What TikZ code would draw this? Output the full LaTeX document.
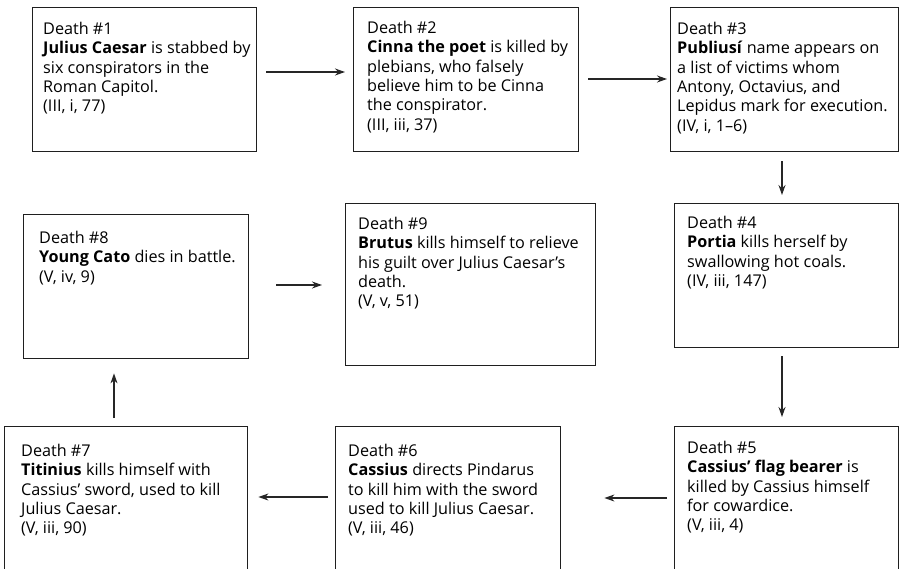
\documentclass[tikz,border=0pt]{standalone}
\usepackage{fontspec}
\setmainfont{Open Sans}
\usetikzlibrary{arrows.meta,calc}
\tikzset{
  box/.style={draw=black!88, line width=1.4pt, inner sep=0pt, anchor=north west},
  txt/.style={inner sep=0pt, anchor=north west, align=left, text=black,
     font=\fontsize{16.2pt}{19.3pt}\selectfont},
  link/.style={draw=black!85, line width=1.2pt, -{Stealth[length=10pt,width=7pt]}}
}
\begin{document}
\begin{tikzpicture}[x=1pt,y=-1pt]
\useasboundingbox (0,0) rectangle (900,569);
\clip (0,0) rectangle (900,569);
% boxes
\node[box, minimum width=224pt, minimum height=144pt] (b1) at (32,7) {};
\node[box, minimum width=225pt, minimum height=144pt] (b2) at (353,7) {};
\node[box, minimum width=228pt, minimum height=144pt] (b3) at (670,7) {};
\node[box, minimum width=224pt, minimum height=144pt] (b4) at (674,203) {};
\node[box, minimum width=224pt, minimum height=160pt] (b5) at (674,426) {};
\node[box, minimum width=225pt, minimum height=160pt] (b6) at (335,426) {};
\node[box, minimum width=243pt, minimum height=160pt] (b7) at (4,426) {};
\node[box, minimum width=225pt, minimum height=144pt] (b8) at (23,214) {};
\node[box, minimum width=250pt, minimum height=162pt] (b9) at (345,203) {};
% texts
\node[txt] (t1) at ($(b1.north west)+(11,15)$) {Death \#1\\\textbf{Julius Caesar} is stabbed by\\six conspirators in the\\Roman Capitol.\\(III, i, 77)};
\node[txt] (t2) at ($(b2.north west)+(14,14)$) {Death \#2\\\textbf{Cinna the poet} is killed by\\plebians, who falsely\\believe him to be Cinna\\the conspirator.\\(III, iii, 37)};
\node[txt] (t3) at ($(b3.north west)+(7,15)$) {Death \#3\\\textbf{Publiusí} name appears on\\a list of victims whom\\Antony, Octavius, and\\Lepidus mark for execution.\\(IV, i, 1–6)};
\node[txt] (t4) at ($(b4.north west)+(13,13)$) {Death \#4\\\textbf{Portia} kills herself by\\swallowing hot coals.\\(IV, iii, 147)};
\node[txt] (t5) at ($(b5.north west)+(13,15)$) {Death \#5\\\textbf{Cassius’ flag bearer} is\\killed by Cassius himself\\for cowardice.\\(V, iii, 4)};
\node[txt] (t6) at ($(b6.north west)+(13,18)$) {Death \#6\\\textbf{Cassius} directs Pindarus\\to kill him with the sword\\used to kill Julius Caesar.\\(V, iii, 46)};
\node[txt] (t7) at ($(b7.north west)+(17,18)$) {Death \#7\\\textbf{Titinius} kills himself with\\Cassius’ sword, used to kill\\Julius Caesar.\\(V, iii, 90)};
\node[txt] (t8) at ($(b8.north west)+(16,17)$) {Death \#8\\\textbf{Young Cato} dies in battle.\\(V, iv, 9)};
\node[txt] (t9) at ($(b9.north west)+(13,14)$) {Death \#9\\\textbf{Brutus} kills himself to relieve\\his guilt over Julius Caesar’s\\death.\\(V, v, 51)};
% connectors
\draw[link] ($(b1.north east)+(9,65)$) -- ($(b2.north west)+(-8,65)$);
\draw[link] ($(b2.north east)+(9,72)$) -- ($(b3.north west)+(-3,72)$);
\draw[link] ($(b3.south west)+(112,9)$) -- ($(b4.north west)+(108,-8)$);
\draw[link] ($(b4.south west)+(108,8)$) -- ($(b5.north west)+(108,-9)$);
\draw[link] ($(b5.north west)+(-7,72)$) -- ($(b6.north east)+(43,72)$);
\draw[link] ($(b6.north west)+(-7,71)$) -- ($(b7.north east)+(10,71)$);
\draw[link] ($(b7.north west)+(110,-8)$) -- ($(b8.south west)+(91,14)$);
\draw[link] ($(b8.north east)+(27,71)$) -- ($(b9.north west)+(-23,82)$);
\end{tikzpicture}
\end{document}
